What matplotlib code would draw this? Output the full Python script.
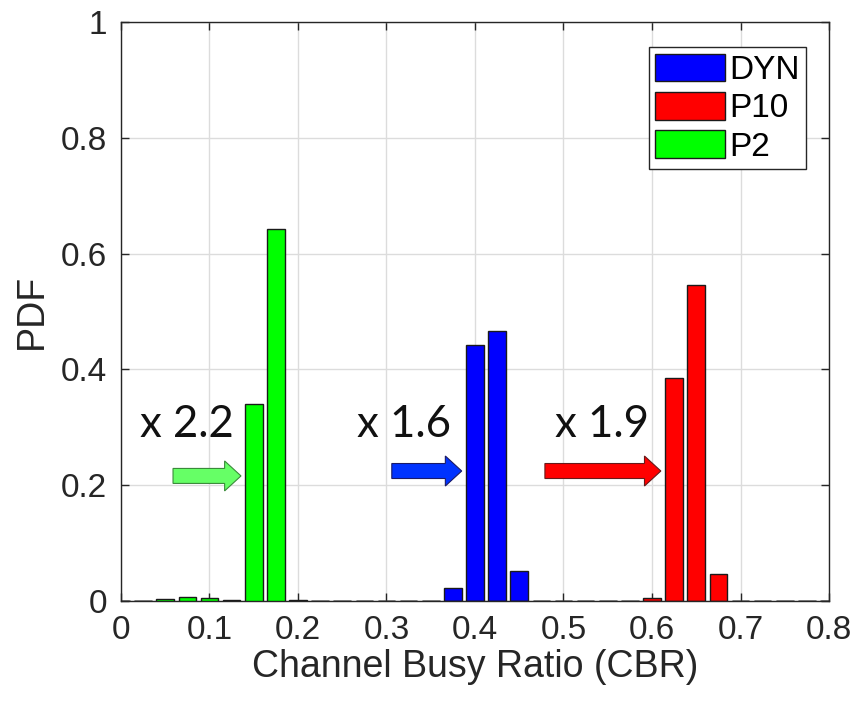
import numpy as np
import matplotlib.pyplot as plt
from matplotlib.patches import FancyArrow

plt.rcParams['font.family'] = ['Liberation Sans', 'DejaVu Sans']

# bin centres (CBR), step 0.025 from 0 to 0.8
cbr = [0.0, 0.025, 0.05, 0.075, 0.1, 0.125, 0.15, 0.175, 0.2, 0.225, 0.25,
       0.275, 0.3, 0.325, 0.35, 0.375, 0.4, 0.425, 0.45, 0.475, 0.5, 0.525,
       0.55, 0.575, 0.6, 0.625, 0.65, 0.675, 0.7, 0.725, 0.75, 0.775, 0.8]

pdf_dyn = [0, 0, 0, 0, 0, 0, 0, 0, 0, 0, 0, 0, 0, 0, 0, 0.0225, 0.443, 0.467,
           0.052, 0, 0, 0, 0, 0, 0, 0, 0, 0, 0, 0, 0, 0, 0]
pdf_p10 = [0, 0, 0, 0, 0, 0, 0, 0, 0, 0, 0, 0, 0, 0, 0, 0, 0, 0, 0, 0, 0, 0,
           0, 0, 0.005, 0.386, 0.545, 0.047, 0, 0, 0, 0, 0]
pdf_p2 = [0, 0, 0.004, 0.007, 0.0045, 0.001, 0.34, 0.643, 0.002, 0, 0, 0, 0,
          0, 0, 0, 0, 0, 0, 0, 0, 0, 0, 0, 0, 0, 0, 0, 0, 0, 0, 0, 0]

series = ['DYN', 'P10', 'P2']
colors = ['#0000ff', '#ff0000', '#00ff00']

# gain annotations: label, text x, arrow start x, arrow tip x, arrow y, arrow colour
gain_txt = ['x 2.2', 'x 1.6', 'x 1.9']
gain_tx = [0.0215, 0.267, 0.490]
arr_x0 = [0.0588, 0.306, 0.479]
arr_x1 = [0.1356, 0.385, 0.610]
arr_y = [0.216, 0.2245, 0.2245]
arr_fc = ['#66ff66', '#0033ff', '#ff0000']
arr_ec = ['#3a8a3a', '#1a1a66', '#661a1a']

fig = plt.figure(figsize=(8.55, 7.03), dpi=100)
ax = fig.add_axes([0.1415, 0.1451, 0.8281, 0.8236])

w = 0.02
for vals, c, lab in zip([pdf_dyn, pdf_p10, pdf_p2], colors, series):
    ax.bar(cbr, vals, width=w, color=c, edgecolor='#1a1a1a', linewidth=1.0,
           label=lab, zorder=3)

for t, tx, x0, x1, y, fc, ec in zip(gain_txt, gain_tx, arr_x0, arr_x1, arr_y,
                                    arr_fc, arr_ec):
    ax.text(tx, 0.283, t, fontsize=31.5, family=['Lato', 'DejaVu Sans'],
            va='baseline', ha='left', color='#111111', zorder=5)
    ar = FancyArrow(x0, y, x1 - x0, 0, width=0.0259, head_width=0.0518,
                    head_length=0.0185, length_includes_head=True,
                    facecolor=fc, edgecolor=ec, linewidth=0.8, zorder=4)
    ax.add_patch(ar)

ax.set_xlim(0, 0.8)
ax.set_ylim(0, 1)
ax.set_xticks([0, 0.1, 0.2, 0.3, 0.4, 0.5, 0.6, 0.7, 0.8])
ax.set_xticklabels(['0', '0.1', '0.2', '0.3', '0.4', '0.5', '0.6', '0.7', '0.8'])
ax.set_yticks([0, 0.2, 0.4, 0.6, 0.8, 1])
ax.set_yticklabels(['0', '0.2', '0.4', '0.6', '0.8', '1'])
ax.grid(True, color='#dcdcdc', linewidth=1.0, zorder=0)
ax.set_axisbelow(True)
ax.tick_params(direction='in', length=6, width=1, labelsize=24,
               colors='#262626', top=True, right=True, pad=10)
for s in ax.spines.values():
    s.set_color('#262626')
    s.set_linewidth(1.0)

ax.set_xlabel('Channel Busy Ratio (CBR)', fontsize=27, color='#262626',
              labelpad=2)
ax.set_ylabel('PDF', fontsize=27, color='#262626', labelpad=8)

leg = ax.legend(loc='upper right', bbox_to_anchor=(0.9675, 0.957),
                borderaxespad=0, fontsize=24, handlelength=2.1,
                handleheight=0.9, handletextpad=0.1, labelspacing=0.18,
                borderpad=0.2, fancybox=False, framealpha=1)
leg.get_frame().set_edgecolor('#262626')
leg.get_frame().set_linewidth(1.0)

plt.savefig('out.png', dpi=100)
